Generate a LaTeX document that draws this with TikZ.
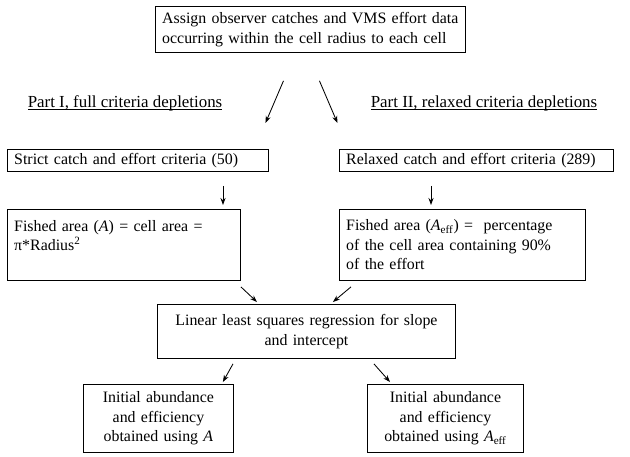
\documentclass[tikz,border=0pt]{standalone}
\usepackage{fontspec}
\setmainfont{Liberation Serif}
\usetikzlibrary{arrows.meta, calc}

\begin{document}
\begin{tikzpicture}[x=0.025cm, y=-0.025cm,
    box/.style={draw, line width=0.6pt, anchor=north west, inner xsep=0.17cm, inner ysep=0pt,
        font=\fontsize{11.3}{13.8}\selectfont},
    heading/.style={font=\fontsize{12}{14}\selectfont},
    arr/.style={-{Stealth[length=5pt, width=3.6pt]}, line width=0.6pt}]
    \useasboundingbox (0,0) rectangle (630,456);
    % Top step
    \node[box, minimum width=7.75cm, minimum height=1.15cm, text width=7.41cm, align=left] (assign) at (155,6)
        {Assign observer catches and VMS effort data\\occurring within the cell radius to each cell};
    % Headings of the two parts
    \node[heading] (partI) at (125,109) {\underline{\smash{Part I, full criteria depletions}}};
    \node[heading] (partII) at (484,109) {\underline{\smash{Part II, relaxed criteria depletions}}};
    % Criteria
    \node[box, minimum width=6.525cm, minimum height=0.55cm, text width=6.185cm, align=left] (strict) at (7,149)
        {Strict catch and effort criteria (50)};
    \node[box, minimum width=6.85cm, minimum height=0.55cm, text width=6.51cm, align=left] (relaxed) at (339,149)
        {Relaxed catch and effort criteria (289)};
    % Fished area
    \node[box, minimum width=5.825cm, minimum height=1.775cm, text width=5.485cm, align=left] (fishA) at (7,209)
        {Fished area (\textit{A}) = cell area =\\π*Radius\textsuperscript{2}\\\mbox{}};
    \node[box, minimum width=6.15cm, minimum height=1.775cm, text width=5.81cm, align=left] (fishAeff) at (339,209)
        {Fished area (\textit{A}\textsubscript{eff}) = \ percentage\\of the cell area containing 90\%\\of the effort};
    % Regression
    \node[box, minimum width=7.45cm, minimum height=1.35cm, text width=7.11cm, align=center] (regress) at (157,304)
        {Linear least squares regression for slope\\and intercept};
    % Results
    \node[box, minimum width=3.75cm, minimum height=1.7cm, text width=3.41cm, align=center] (initA) at (83,384)
        {Initial abundance\\and efficiency\\obtained using \textit{A}};
    \node[box, minimum width=3.9cm, minimum height=1.7cm, text width=3.56cm, align=center] (initAeff) at (367,384)
        {Initial abundance\\and efficiency\\obtained using \textit{A}\textsubscript{eff}};
    % Arrows
    \draw[arr] ($(assign.south)+(-27,28)$) -- ($(strict.north)+(127.5,-26)$);
    \draw[arr] ($(assign.south)+(9,28)$) -- ($(relaxed.north)+(-139,-26)$);
    \draw[arr] ($(strict.south west)+(216,14)$) -- ($(fishA.north west)+(216,-4)$);
    \draw[arr] ($(relaxed.south west)+(92,14)$) -- ($(fishAeff.north west)+(92,-4)$);
    \draw[arr] ($(fishA.south east)+(0,6)$) -- ($(regress.north west)+(100,-2)$);
    \draw[arr] ($(fishAeff.south west)+(12,6)$) -- ($(regress.north east)+(-123,-2)$);
    \draw[arr] ($(regress.south west)+(76,5)$) -- ($(initA.north east)+(-11,-2)$);
    \draw[arr] ($(regress.south east)+(-82,5)$) -- ($(initAeff.north west)+(23,-2)$);
\end{tikzpicture}
\end{document}
